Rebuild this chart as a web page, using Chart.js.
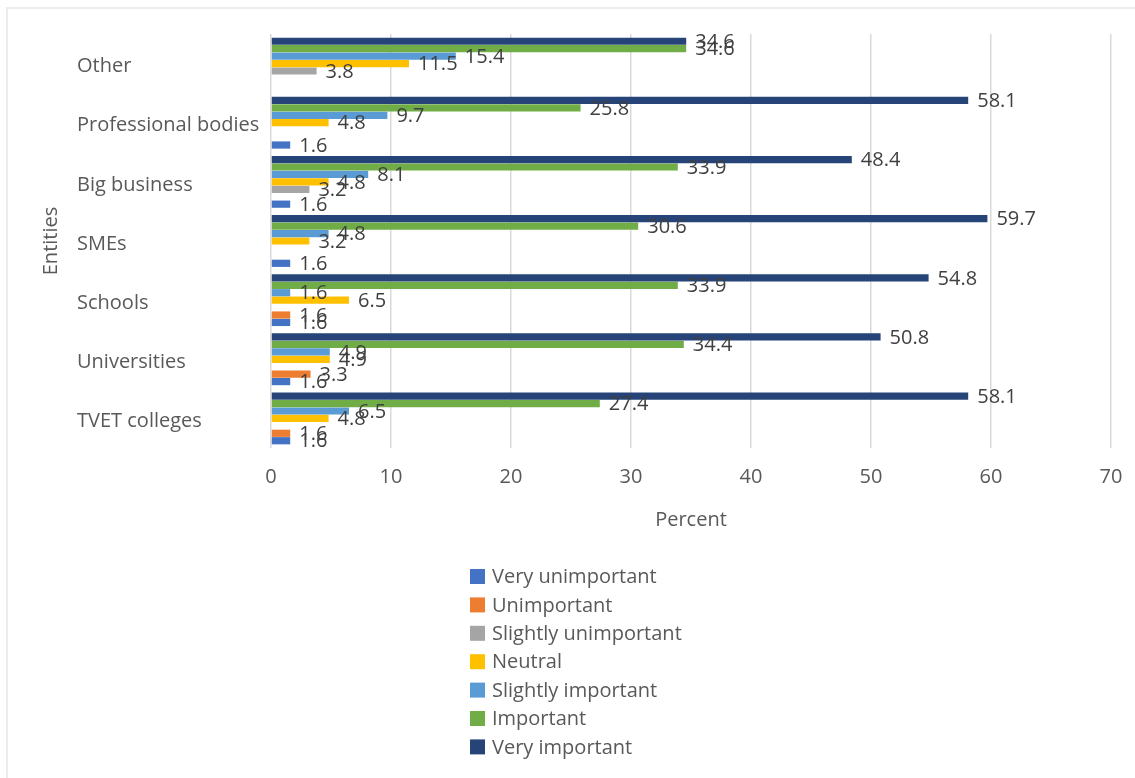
<!DOCTYPE html>
<html>
<head>
<meta charset="utf-8">
<script src="https://cdn.jsdelivr.net/npm/chart.js@4/dist/chart.umd.min.js"></script>
<style>
  html, body { margin: 0; padding: 0; background: #fff; }
  #wrap { position: relative; width: 1135px; height: 778px; overflow: hidden; }
  #wrap canvas { position: absolute; left: 0; top: 0; }
  #frame { position: absolute; left: 6px; top: 7px; right: -10px; bottom: -10px;
           border-top: 2px solid #ececec; border-left: 2px solid #ececec; pointer-events: none; }
</style>
</head>
<body>
<div id="wrap">
  <canvas id="chart" width="1135" height="778"></canvas>
  <div id="frame"></div>
</div>
<script>
// Entities, listed top to bottom
const categories = ['Other', 'Professional bodies', 'Big business', 'SMEs', 'Schools', 'Universities', 'TVET colleges'];

// Percent of respondents per rating (null = no responses)
const veryUnimportant     = [null, 1.6, 1.6, 1.6, 1.6, 1.6, 1.6];
const unimportant         = [null, null, null, null, 1.6, 3.3, 1.6];
const slightlyUnimportant = [3.8, null, 3.2, null, null, null, null];
const neutral             = [11.5, 4.8, 4.8, 3.2, 6.5, 4.9, 4.8];
const slightlyImportant   = [15.4, 9.7, 8.1, 4.8, 1.6, 4.9, 6.5];
const important           = [34.6, 25.8, 33.9, 30.6, 33.9, 34.4, 27.4];
const veryImportant       = [34.6, 58.1, 48.4, 59.7, 54.8, 50.8, 58.1];

const seriesNames  = ['Very unimportant', 'Unimportant', 'Slightly unimportant', 'Neutral',
                      'Slightly important', 'Important', 'Very important'];
const seriesValues = [veryUnimportant, unimportant, slightlyUnimportant, neutral,
                      slightlyImportant, important, veryImportant];
const seriesColors = ['#4472C4', '#ED7D31', '#A5A5A5', '#FFC000', '#5B9BD5', '#70AD47', '#264478'];

const percentTicks = [0, 10, 20, 30, 40, 50, 60, 70];

const FONT = '"Open Sans", "Noto Sans", sans-serif';
const FONT_SIZE = 20;
const TEXT = '#595959';

// Bars in each group run from "Very important" (top) down to "Very unimportant"
const datasets = seriesNames.map((name, i) => ({
  label: name,
  data: seriesValues[i],
  backgroundColor: seriesColors[i],
  borderWidth: 0,
  categoryPercentage: 0.88,
  barPercentage: 0.97
})).reverse();

// Value printed just past the end of every bar
const valueLabels = {
  id: 'valueLabels',
  afterDatasetsDraw(chart) {
    const ctx = chart.ctx;
    ctx.save();
    ctx.font = FONT_SIZE + 'px ' + FONT;
    ctx.fillStyle = '#404040';
    ctx.textAlign = 'left';
    ctx.textBaseline = 'middle';
    chart.data.datasets.forEach((ds, i) => {
      const meta = chart.getDatasetMeta(i);
      meta.data.forEach((bar, j) => {
        const v = ds.data[j];
        if (v === null || v === undefined) return;
        ctx.fillText(v.toFixed(1), bar.x + 9, bar.y + 1);
      });
    });
    ctx.restore();
  }
};

// Single-column legend under the axis title
const columnLegend = {
  id: 'columnLegend',
  afterDraw(chart) {
    const ctx = chart.ctx;
    const left = 470, firstRow = 576.5, rowStep = 28.4, box = 15;
    ctx.save();
    ctx.font = FONT_SIZE + 'px ' + FONT;
    ctx.textAlign = 'left';
    ctx.textBaseline = 'middle';
    seriesNames.forEach((name, i) => {
      const y = firstRow + i * rowStep;
      ctx.fillStyle = seriesColors[i];
      ctx.fillRect(left, y - box / 2, box, box);
      ctx.fillStyle = TEXT;
      ctx.fillText(name, left + 22, y + 1);
    });
    ctx.restore();
  }
};

new Chart(document.getElementById('chart'), {
  type: 'bar',
  data: { labels: categories, datasets },
  plugins: [valueLabels, columnLegend],
  options: {
    indexAxis: 'y',
    responsive: false,
    animation: false,
    layout: { padding: { left: 39, right: 24, top: 34, bottom: 246 } },
    plugins: { legend: { display: false }, tooltip: { enabled: false } },
    scales: {
      x: {
        type: 'linear',
        min: 0,
        max: 70,
        afterBuildTicks(scale) { scale.ticks = percentTicks.map(v => ({ value: v })); },
        afterFit(scale) {
          scale.height = 84;
          scale.paddingLeft = 0;
          scale.paddingRight = 0;
        },
        grid: { color: '#d9d9d9', lineWidth: 1.5, drawTicks: false },
        border: { display: false },
        ticks: { padding: 17, color: TEXT, font: { family: FONT, size: FONT_SIZE } },
        title: { display: true, text: 'Percent', color: TEXT,
                 font: { family: FONT, size: FONT_SIZE }, padding: { top: 0, bottom: 0 } }
      },
      y: {
        type: 'category',
        grid: { display: false },
        border: { display: false },
        ticks: { crossAlign: 'far', labelOffset: 3, color: TEXT,
                 font: { family: FONT, size: FONT_SIZE } },
        afterFit(scale) {
          scale.width = 194;
          scale.paddingTop = 0;
          scale.paddingBottom = 0;
        }
      },
      entities: {
        type: 'category',
        position: 'left',
        axis: 'y',
        weight: 10,
        grid: { display: false },
        border: { display: false },
        ticks: { display: false },
        title: { display: true, text: 'Entities', color: TEXT,
                 font: { family: FONT, size: FONT_SIZE }, padding: 0 },
        afterFit(scale) { scale.width = 38; }
      }
    }
  }
});
</script>
</body>
</html>
